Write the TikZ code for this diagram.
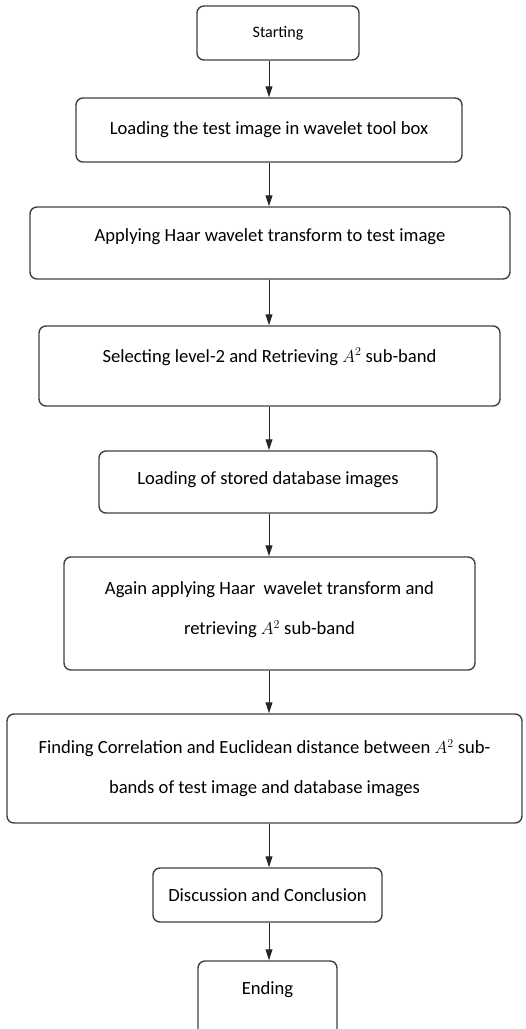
\documentclass[tikz,border=0pt]{standalone}
\usepackage{fontspec}
\setmainfont{Carlito}
\usetikzlibrary{arrows.meta,positioning}

\begin{document}
\begin{tikzpicture}[x=1pt, y=-1pt,
    stage/.style={draw=black!75, line width=1.4pt, rounded corners=7pt, align=center, inner sep=0pt, font=\fontsize{18.6}{40}\selectfont},
    arr/.style={-{Triangle[length=11pt, width=7pt]}, line width=1pt, black!85}
]
\useasboundingbox (0,0) rectangle (526,1029);
\coordinate (axis) at (269,0);
\node[stage, minimum width=162, minimum height=54, font=\fontsize{16}{19}\selectfont] (start) at (278,33) {Starting};
\node[stage, minimum width=386, minimum height=64] (load) at (269,130) {Loading the test image in wavelet tool box};
\node[stage, minimum width=480, minimum height=72, text depth=16pt] (haar) at (270,243) {Applying Haar wavelet transform to test image};
\node[stage, minimum width=461, minimum height=80, text depth=22pt] (level) at (269.5,366) {Selecting level-2 and Retrieving $A^2$ sub-band};
\node[stage, minimum width=338, minimum height=62, text depth=8pt] (db) at (268,482) {Loading of stored database images};
\node[stage, minimum width=411, minimum height=113, text depth=11pt] (again) at (269.5,613.5) {Again applying Haar~ wavelet transform and\\retrieving $A^2$ sub-band};
\node[stage, minimum width=515, minimum height=109] (corr) at (264.5,768.5) {Finding Correlation and Euclidean distance between $A^2$ sub-\\bands of test image and database images};
\node[stage, minimum width=229, minimum height=54] (disc) at (267.5,895) {Discussion and Conclusion};
\node[stage, minimum width=139, minimum height=84, text depth=30pt] (stop) at (267.5,1003) {Ending};

\draw[arr] (start.south -| axis) -- (load.north -| axis);
\draw[arr] (load.south -| axis) -- (haar.north -| axis);
\draw[arr] (haar.south -| axis) -- (level.north -| axis);
\draw[arr] (level.south -| axis) -- (db.north -| axis);
\draw[arr] (db.south -| axis) -- (again.north -| axis);
\draw[arr] (again.south -| axis) -- (corr.north -| axis);
\draw[arr] (corr.south -| axis) -- (disc.north -| axis);
\draw[arr] (disc.south -| axis) -- (stop.north -| axis);
\end{tikzpicture}
\end{document}
